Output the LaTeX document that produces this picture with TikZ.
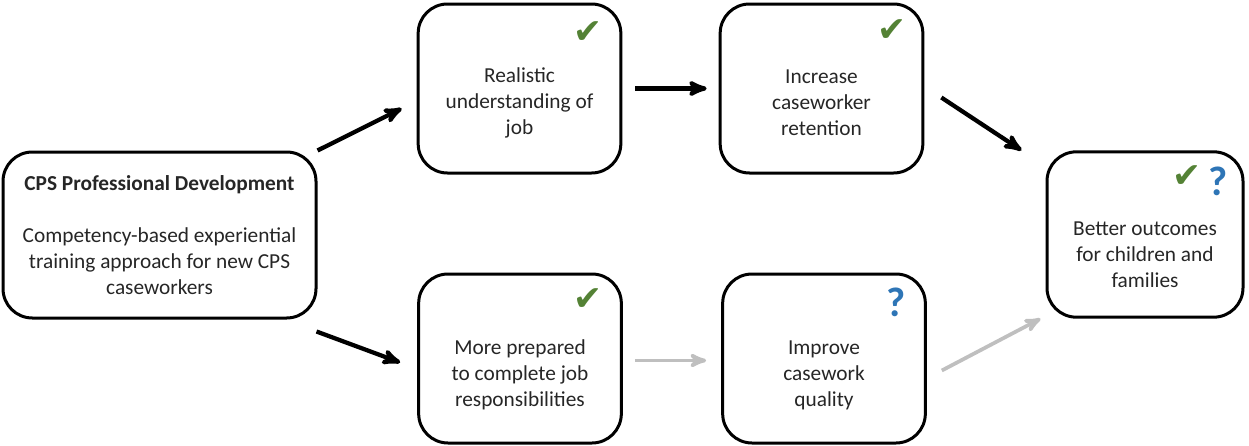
\documentclass[tikz,border=0pt]{standalone}
\usepackage{fontspec}
\setmainfont{Carlito}
\newfontfamily\symfont{DejaVu Sans}
\usepackage{tikz}
\usetikzlibrary{calc,arrows}
\definecolor{tickgreen}{HTML}{548235}
\definecolor{askblue}{HTML}{2E75B6}
\definecolor{weakgray}{HTML}{BFBFBF}
\definecolor{inkgray}{HTML}{262626}
\tikzset{
  box/.style   = {draw, rounded corners=22pt, line width=2.25pt, inner sep=0pt},
  stage/.style = {box, minimum width=152pt, minimum height=126.75pt},
  txt/.style   = {align=center, text=inkgray,
                  font=\fontsize{16}{19.5}\selectfont},
  tick/.style  = {text=tickgreen, inner sep=0pt,
                  font=\symfont\fontsize{26}{26}\selectfont},
  ask/.style   = {text=askblue, inner sep=0pt,
                  font=\bfseries\fontsize{31}{31}\selectfont},
  post/.style  = {->, >=stealth', line width=3.2pt},
  weak/.style  = {post, color=weakgray, line width=2.8pt}
}

\begin{document}
\begin{tikzpicture}[x=0.75pt,y=-0.75pt]
  \useasboundingbox (0,0) rectangle (1249,446);
  % boxes
  \node[box, txt, minimum width=234.75pt, minimum height=124.5pt] (cps) at (159.5,235)
    {\textbf{CPS Professional Development}\\[19.5pt]Competency-based experiential\\training approach for new CPS\\caseworkers};
  \node[stage] (real) at (519.5,88.5) {};
  \node[stage] (incr) at (821.5,88.5) {};
  \node[stage] (prep) at (520,358.5) {};
  \node[stage] (impr) at (824,358.5) {};
  \node[box, minimum width=147pt, minimum height=124pt] (out) at (1145,234.5) {};
  % texts
  \node[txt] (realtext) at ($(real.center)+(0,14)$) {Realistic\\understanding of\\job};
  \node[txt] (incrtext) at ($(incr.center)+(0,14)$) {Increase\\caseworker\\retention};
  \node[txt] (preptext) at ($(prep.center)+(0,16)$) {More prepared\\to complete job\\responsibilities};
  \node[txt] (imprtext) at ($(impr.center)+(0,17)$) {Improve\\casework\\quality};
  \node[txt] (outtext) at ($(out.center)+(0,20)$) {Better outcomes\\for children and\\families};
  % marks
  \node[tick] (realtick) at ($(real.north east)+(-34,30)$) {✔};
  \node[tick] (incrtick) at ($(incr.north east)+(-32,28)$) {✔};
  \node[tick] (preptick) at ($(prep.north east)+(-35,27)$) {✔};
  \node[ask] (imprask) at ($(impr.north east)+(-31,30)$) {?};
  \node[tick] (outtick) at ($(out.north east)+(-57,26)$) {✔};
  \node[ask] (outask) at ($(out.north east)+(-26,31)$) {?};
  % arrows
  \draw[post] (cps.north east) -- ($(real.west)+(-15,20)$);
  \draw[post] ($(real.east)+(13,0)$) -- ($(incr.west)+(-12,0)$);
  \draw[post] ($(incr.east)+(17,9)$) -- ($(out.north west)+(-24,0)$);
  \draw[post] ($(cps.south east)+(-1,12)$) -- ($(prep.west)+(-17,4)$);
  \draw[weak] ($(prep.east)+(12,2)$) -- ($(impr.west)+(-15,2)$);
  \draw[weak] ($(impr.east)+(15,12)$) -- ($(out.south west)+(-5,0)$);
\end{tikzpicture}
\end{document}
